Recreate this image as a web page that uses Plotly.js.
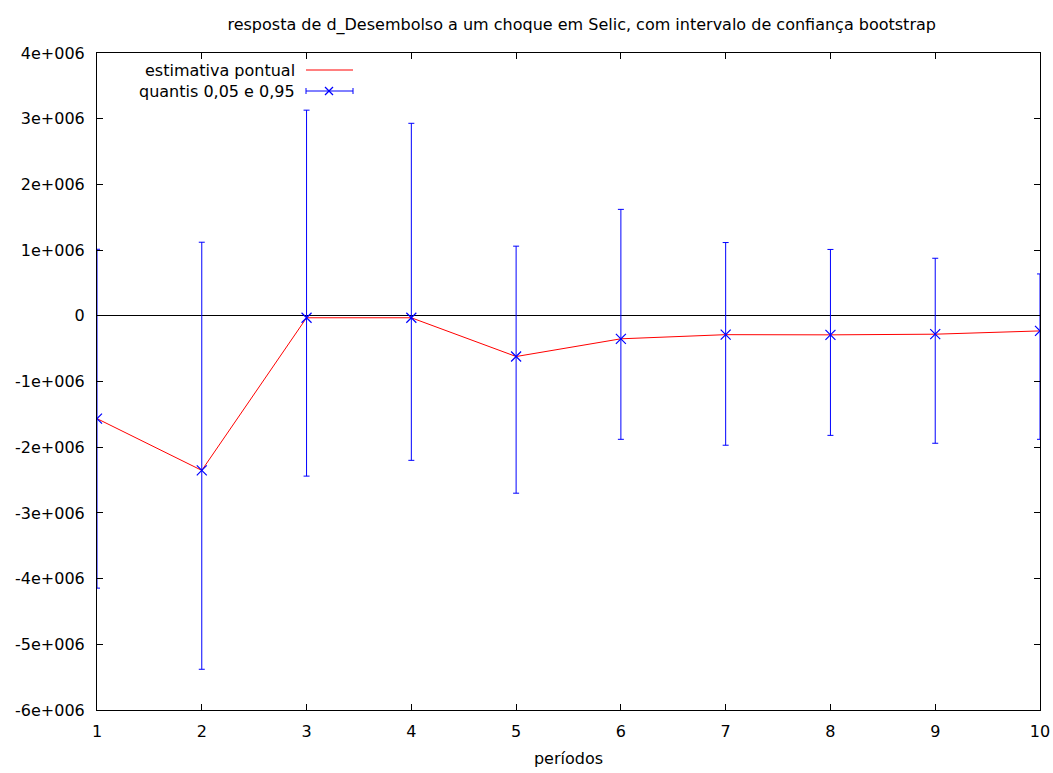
<!DOCTYPE html>
<html>
<head>
<meta charset="utf-8">
<script src="https://cdn.plot.ly/plotly-3.0.1.min.js"></script>
<style>html,body{margin:0;padding:0;background:#fff;}</style>
</head>
<body>
<div id="chart" style="width:1053px;height:773px;"></div>
<script>
// Data
const periods = [1, 2, 3, 4, 5, 6, 7, 8, 9, 10];
const pointEstimate = [-1565000, -2353000, -30000, -30000, -620000, -350000, -287000, -290000, -280000, -230000];
const quantile95 = [1013000, 1120000, 3130000, 2930000, 1060000, 1620000, 1115000, 1010000, 876000, 637000];
const quantile05 = [-4145000, -5380000, -2440000, -2200000, -2700000, -1880000, -1970000, -1820000, -1940000, -1880000];
const yTickVals = [-6e6, -5e6, -4e6, -3e6, -2e6, -1e6, 0, 1e6, 2e6, 3e6, 4e6];
const yTickText = ['-6e+006', '-5e+006', '-4e+006', '-3e+006', '-2e+006', '-1e+006', '0', '1e+006', '2e+006', '3e+006', '4e+006'];
const legendLabels = ['estimativa pontual', 'quantis 0,05 e 0,95'];

const errPlus = quantile95.map((v, i) => v - pointEstimate[i]);
const errMinus = pointEstimate.map((v, i) => v - quantile05[i]);

const FONT = 'DejaVu Sans, sans-serif';
const FS = 16;

const traces = [
  {
    x: periods, y: pointEstimate, type: 'scatter', mode: 'lines',
    line: {color: 'rgb(255,0,0)', width: 1}, name: legendLabels[0], hoverinfo: 'skip'
  },
  {
    x: periods, y: pointEstimate, type: 'scatter', mode: 'markers',
    marker: {symbol: 'x-thin', size: 10, color: 'rgb(0,0,255)', line: {color: 'rgb(0,0,255)', width: 1.2}},
    error_y: {type: 'data', symmetric: false, array: errPlus, arrayminus: errMinus,
      color: 'rgb(0,0,255)', thickness: 1, width: 3},
    name: legendLabels[1]
  }
];

// legend drawn gnuplot-style (text left of sample), in paper coordinates
const px = x => (x - 97) / 943;
const py = y => (710 - y) / 657;
const shapes = [
  {type: 'line', xref: 'paper', yref: 'paper', x0: px(306), x1: px(353), y0: py(70), y1: py(70), line: {color: 'rgb(255,0,0)', width: 1}},
  {type: 'line', xref: 'paper', yref: 'paper', x0: px(306), x1: px(353), y0: py(91), y1: py(91), line: {color: 'rgb(0,0,255)', width: 1}},
  {type: 'line', xref: 'paper', yref: 'paper', x0: px(306), x1: px(306), y0: py(88), y1: py(94), line: {color: 'rgb(0,0,255)', width: 1}},
  {type: 'line', xref: 'paper', yref: 'paper', x0: px(353), x1: px(353), y0: py(88), y1: py(94), line: {color: 'rgb(0,0,255)', width: 1}},
  {type: 'line', xref: 'paper', yref: 'paper', x0: px(325), x1: px(333), y0: py(87), y1: py(95), line: {color: 'rgb(0,0,255)', width: 1.2}},
  {type: 'line', xref: 'paper', yref: 'paper', x0: px(325), x1: px(333), y0: py(95), y1: py(87), line: {color: 'rgb(0,0,255)', width: 1.2}}
];
const annotations = [
  {xref: 'paper', yref: 'paper', x: px(297), y: py(70), text: legendLabels[0], showarrow: false, xanchor: 'right', yanchor: 'middle', font: {family: FONT, size: FS, color: '#000'}},
  {xref: 'paper', yref: 'paper', x: px(297), y: py(91), text: legendLabels[1], showarrow: false, xanchor: 'right', yanchor: 'middle', font: {family: FONT, size: FS, color: '#000'}}
];

const layout = {
  width: 1053, height: 773,
  margin: {l: 97, r: 13, t: 53, b: 63},
  paper_bgcolor: '#fff', plot_bgcolor: '#fff',
  showlegend: false,
  font: {family: FONT, size: FS, color: '#000'},
  title: {text: 'resposta de d_Desembolso a um choque em Selic, com intervalo de confiança bootstrap',
    x: 0.514, xref: 'paper', xanchor: 'center', y: 0.969, yanchor: 'middle', font: {family: FONT, size: FS, color: '#000'}},
  xaxis: {
    range: [1, 10], tickvals: periods, ticktext: periods.map(String),
    ticks: 'inside', ticklen: 6, tickcolor: '#000', showline: true, linecolor: '#000', linewidth: 1,
    mirror: 'allticks', showgrid: false, zeroline: false, ticklabelstandoff: 7,
    title: {text: 'períodos', standoff: 12, font: {family: FONT, size: FS}}
  },
  yaxis: {
    range: [-6e6, 4e6], tickvals: yTickVals, ticktext: yTickText,
    ticks: 'inside', ticklen: 6, tickcolor: '#000', showline: true, linecolor: '#000', linewidth: 1,
    mirror: 'allticks', showgrid: false, zeroline: true, zerolinecolor: '#000', zerolinewidth: 1,
    ticklabelstandoff: 8
  },
  shapes: shapes, annotations: annotations
};

Plotly.newPlot('chart', traces, layout, {displayModeBar: false, staticPlot: true});
</script>
</body>
</html>
